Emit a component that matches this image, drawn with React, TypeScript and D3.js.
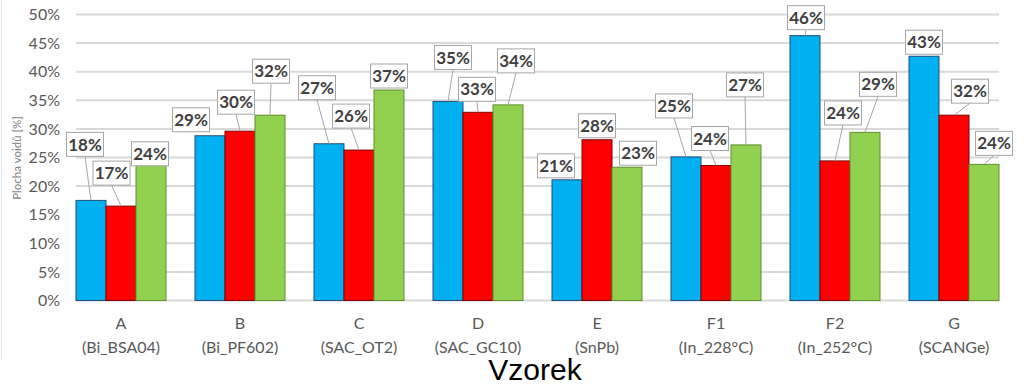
import React from 'react';
import * as d3 from 'd3';

// categories (two-line axis labels)
const samples = ['A', 'B', 'C', 'D', 'E', 'F1', 'F2', 'G'];
const sampleNames = ['(Bi_BSA04)', '(Bi_PF602)', '(SAC_OT2)', '(SAC_GC10)', '(SnPb)', '(In_228°C)', '(In_252°C)', '(SCANGe)'];

// void area [%] per series
const seriesBlue = [17.5, 28.8, 27.4, 34.8, 21.1, 25.1, 46.3, 42.7];
const seriesRed = [16.5, 29.6, 26.3, 32.9, 28.1, 23.6, 24.4, 32.4];
const seriesGreen = [23.9, 32.4, 36.8, 34.2, 23.3, 27.2, 29.4, 23.8];

const yTicks = [0, 5, 10, 15, 20, 25, 30, 35, 40, 45, 50];

// hand-placed data label offsets (from bar top centre), like the excel callouts
const labelOffsets = [
  [[-6, -56], [-9.5, -33], [-1, -10]],
  [[-19, -16], [-4, -29], [1, -44]],
  [[-12, -56], [-8, -34], [0, -14]],
  [[5, -44], [-1, -23], [8, -44]],
  [[-11, -14], [0, -14], [11, -14]],
  [[-12, -51], [-6, -27], [-1, -60]],
  [[1, -18], [8, -48], [13, -48]],
  [[0, -14], [16, -24], [10, -21]],
];

const series = [
  { key: 'blue', values: seriesBlue, fill: '#00b0f0', stroke: '#1f4e79' },
  { key: 'red', values: seriesRed, fill: '#ff0000', stroke: '#7f0000' },
  { key: 'green', values: seriesGreen, fill: '#92d050', stroke: '#5f8f2f' },
];

const W = 1024;
const H = 391;
const pi = 29 / 119;

export default function App() {
  const x0 = d3.scaleBand<string>()
    .domain(samples)
    .range([61.5, 1013.5])
    .paddingInner(pi)
    .paddingOuter(pi / 2);

  const x1 = d3.scaleBand<string>()
    .domain(series.map(s => s.key))
    .range([0, x0.bandwidth()]);

  const y = d3.scaleLinear().domain([0, 50]).range([300.5, 14.5]);

  const gridLeft = 76;
  const gridRight = 999;
  const boxW = 37;
  const boxH = 24;

  return (
    <div style={{ position: 'absolute', left: 0, top: 0 }}>
      <svg width={W} height={H} style={{ display: 'block', background: '#fff' }}>
        <line x1={1.5} x2={1.5} y1={0} y2={360} stroke="#e3e3e3" strokeWidth={1} />

        {/* gridlines + y ticks */}
        {yTicks.map(t => (
          <g key={t}>
            <line x1={gridLeft} x2={gridRight} y1={y(t)} y2={y(t)} stroke="#d9d9d9" strokeWidth={2} />
            <text
              x={60}
              y={y(t)}
              dy="0.35em"
              textAnchor="end"
              fontFamily="Lato, 'Open Sans', sans-serif"
              fontSize={16}
              fill="#595959"
            >
              {t}%
            </text>
          </g>
        ))}

        <text
          transform={`translate(21, 158) rotate(-90)`}
          textAnchor="middle"
          fontFamily="Lato, 'Open Sans', sans-serif"
          fontSize={11.5}
          fill="#7f7f7f"
        >
          Plocha voidů [%]
        </text>

        {/* bars */}
        {samples.map((s, i) => (
          <g key={s} transform={`translate(${x0(s)}, 0)`}>
            {series.map(ser => (
              <rect
                key={ser.key}
                x={x1(ser.key)}
                y={y(ser.values[i])}
                width={x1.bandwidth()}
                height={y(0) - y(ser.values[i])}
                fill={ser.fill}
                stroke={ser.stroke}
                strokeWidth={1}
              />
            ))}
          </g>
        ))}

        {/* data labels with leader lines */}
        {samples.map((s, i) =>
          series.map((ser, j) => {
            const bx = (x0(s) ?? 0) + (x1(ser.key) ?? 0) + x1.bandwidth() / 2;
            const by = y(ser.values[i]);
            const [dx, dy] = labelOffsets[i][j];
            const cx = bx + dx;
            const cy = by + dy;
            const bottom = cy + boxH / 2;
            const showLeader = by - bottom > 4;
            return (
              <g key={`${s}-${ser.key}`}>
                {showLeader && (
                  <line x1={cx} y1={bottom} x2={bx} y2={by} stroke="#a6a6a6" strokeWidth={1} />
                )}
                <rect
                  x={cx - boxW / 2}
                  y={cy - boxH / 2}
                  width={boxW}
                  height={boxH}
                  fill="#fff"
                  stroke="#a6a6a6"
                  strokeWidth={1}
                />
                <text
                  x={cx}
                  y={cy}
                  dy="0.36em"
                  textAnchor="middle"
                  fontFamily="Lato, 'Open Sans', sans-serif"
                  fontWeight="bold"
                  fontSize={17}
                  fill="#404040"
                >
                  {Math.round(ser.values[i])}%
                </text>
              </g>
            );
          })
        )}

        {/* x axis labels */}
        {samples.map((s, i) => {
          const cx = (x0(s) ?? 0) + x0.bandwidth() / 2;
          return (
            <g key={s} fontFamily="Lato, 'Open Sans', sans-serif" fontSize={16} fill="#595959" textAnchor="middle">
              <text x={cx} y={329}>{s}</text>
              <text x={cx} y={353}>{sampleNames[i]}</text>
            </g>
          );
        })}

        <text
          x={535}
          y={380}
          textAnchor="middle"
          fontFamily="'Liberation Sans', Arial, sans-serif"
          fontSize={30}
          fill="#000"
        >
          Vzorek
        </text>
      </svg>
    </div>
  );
}
